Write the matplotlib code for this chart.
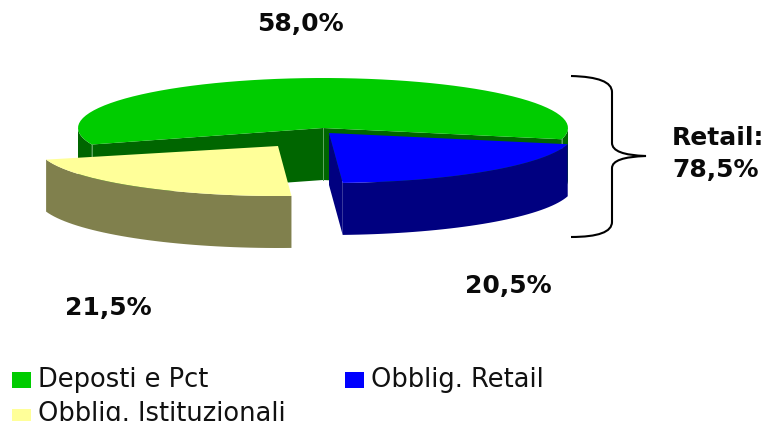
import numpy as np
import matplotlib
matplotlib.use("Agg")
import matplotlib.pyplot as plt
from matplotlib.patches import PathPatch, Rectangle
from matplotlib.path import Path

# data
labels = ["Deposti e Pct", "Obblig. Retail", "Obblig. Istituzionali"]
shares = [58.0, 20.5, 21.5]
share_text = ["58,0%", "20,5%", "21,5%"]
brace_text = ["Retail:", "78,5%"]

# pixel layout of the fake 3d pie
radius_x = [245, 245, 241]
ry, depth = 50, 52
start_angle = -13
green_skew = 3.5  # perspective of the original moves the green edge a bit
order = [0, 2, 1]  # counter clockwise: green, yellow, blue
apex = {0: (323, 128), 2: (278, 146), 1: (329, 133)}
top_colors = ["#00CC00", "#0000FF", "#FFFF99"]
side_colors = ["#006600", "#000080", "#80804D"]
seam = "#5FA85F"

fig = plt.figure(figsize=(7.64, 4.21), dpi=100)
ax = fig.add_axes([0, 0, 1, 1])
ax.set_xlim(0, 764)
ax.set_ylim(421, 0)
ax.axis("off")


def rim(i, t):
    t = np.radians(t)
    return apex[i][0] + radius_x[i] * np.cos(t), apex[i][1] - ry * np.sin(t)


def band(i, t1, t2):
    t = np.linspace(t1, t2, 40)
    x, y = rim(i, t)
    ax.fill(np.r_[x, x[::-1]], np.r_[y, y[::-1] + depth], color=side_colors[i], lw=0)


def face(i, t):
    x, y = rim(i, t)
    ax_, ay = apex[i]
    ax.fill([ax_, x, x, ax_], [ay, y, y + depth, ay + depth], color=side_colors[i], lw=0)


def top(i, t1, t2, n):
    x, y = rim(i, np.linspace(t1, t2, n))
    ax.fill(np.r_[apex[i][0], x], np.r_[apex[i][1], y], color=top_colors[i], lw=0)


# angles of each wedge from the shares
spans = {}
a = start_angle
for i in order:
    spans[i] = (a, a + shares[i] * 3.6)
    a += shares[i] * 3.6

# green, back part first
g1, g2 = spans[0]
g2 += green_skew
face(0, g1)
face(0, g2)
band(0, g1, 0)
band(0, 180, g2)
top(0, g1, g2, 70)
for tt in (g1, g2):
    x, y = rim(0, tt)
    ax.plot([x, x], [y, y + depth], color=seam, lw=0.7, zorder=1)
ax.plot([apex[0][0]] * 2, [apex[0][1], apex[0][1] + depth], color=seam, lw=0.7, zorder=1)

# yellow
y1, y2 = spans[2]
band(2, y1, y2)
top(2, y1, y2, 30)

# blue
b1, b2 = spans[1]
face(1, b1)
band(1, b1, b2)
top(1, b1, b2, 30)

# brace
verts = [(571, 76), (612, 77), (612, 92), (612, 143), (612, 155), (646, 156),
         (612, 157), (612, 168), (612, 222), (612, 237), (571, 237)]
codes = [Path.MOVETO, Path.CURVE3, Path.CURVE3, Path.LINETO, Path.CURVE3, Path.CURVE3,
         Path.CURVE3, Path.CURVE3, Path.LINETO, Path.CURVE3, Path.CURVE3]
ax.add_patch(PathPatch(Path(verts, codes), fc="none", ec="black", lw=1.5))

# value labels
bold = dict(fontfamily="DejaVu Sans", fontweight="bold", fontsize=18, va="center", color="#0A0A0A")
ax.text(300, 24, share_text[0], ha="center", **bold)
ax.text(508, 286, share_text[1], ha="center", **bold)
ax.text(108, 308, share_text[2], ha="center", **bold)
ax.text(672, 138, brace_text[0], ha="left", **bold)
ax.text(672, 170, brace_text[1], ha="left", **bold)

# legend, last row is cut by the bottom edge in the reference too
legend_pos = [(12, 388), (345, 388), (12, 422)]
swatch_y = [372, 372, 409]
for i, (lx, ly) in enumerate(legend_pos):
    ax.add_patch(Rectangle((lx, swatch_y[i]), 19, 16, color=top_colors[i], lw=0))
    ax.text(lx + 26, ly - 1, labels[i], fontsize=18.5, color="#111111", va="baseline", ha="left",
            fontfamily="DejaVu Sans")

fig.savefig("out.png", dpi=100)
